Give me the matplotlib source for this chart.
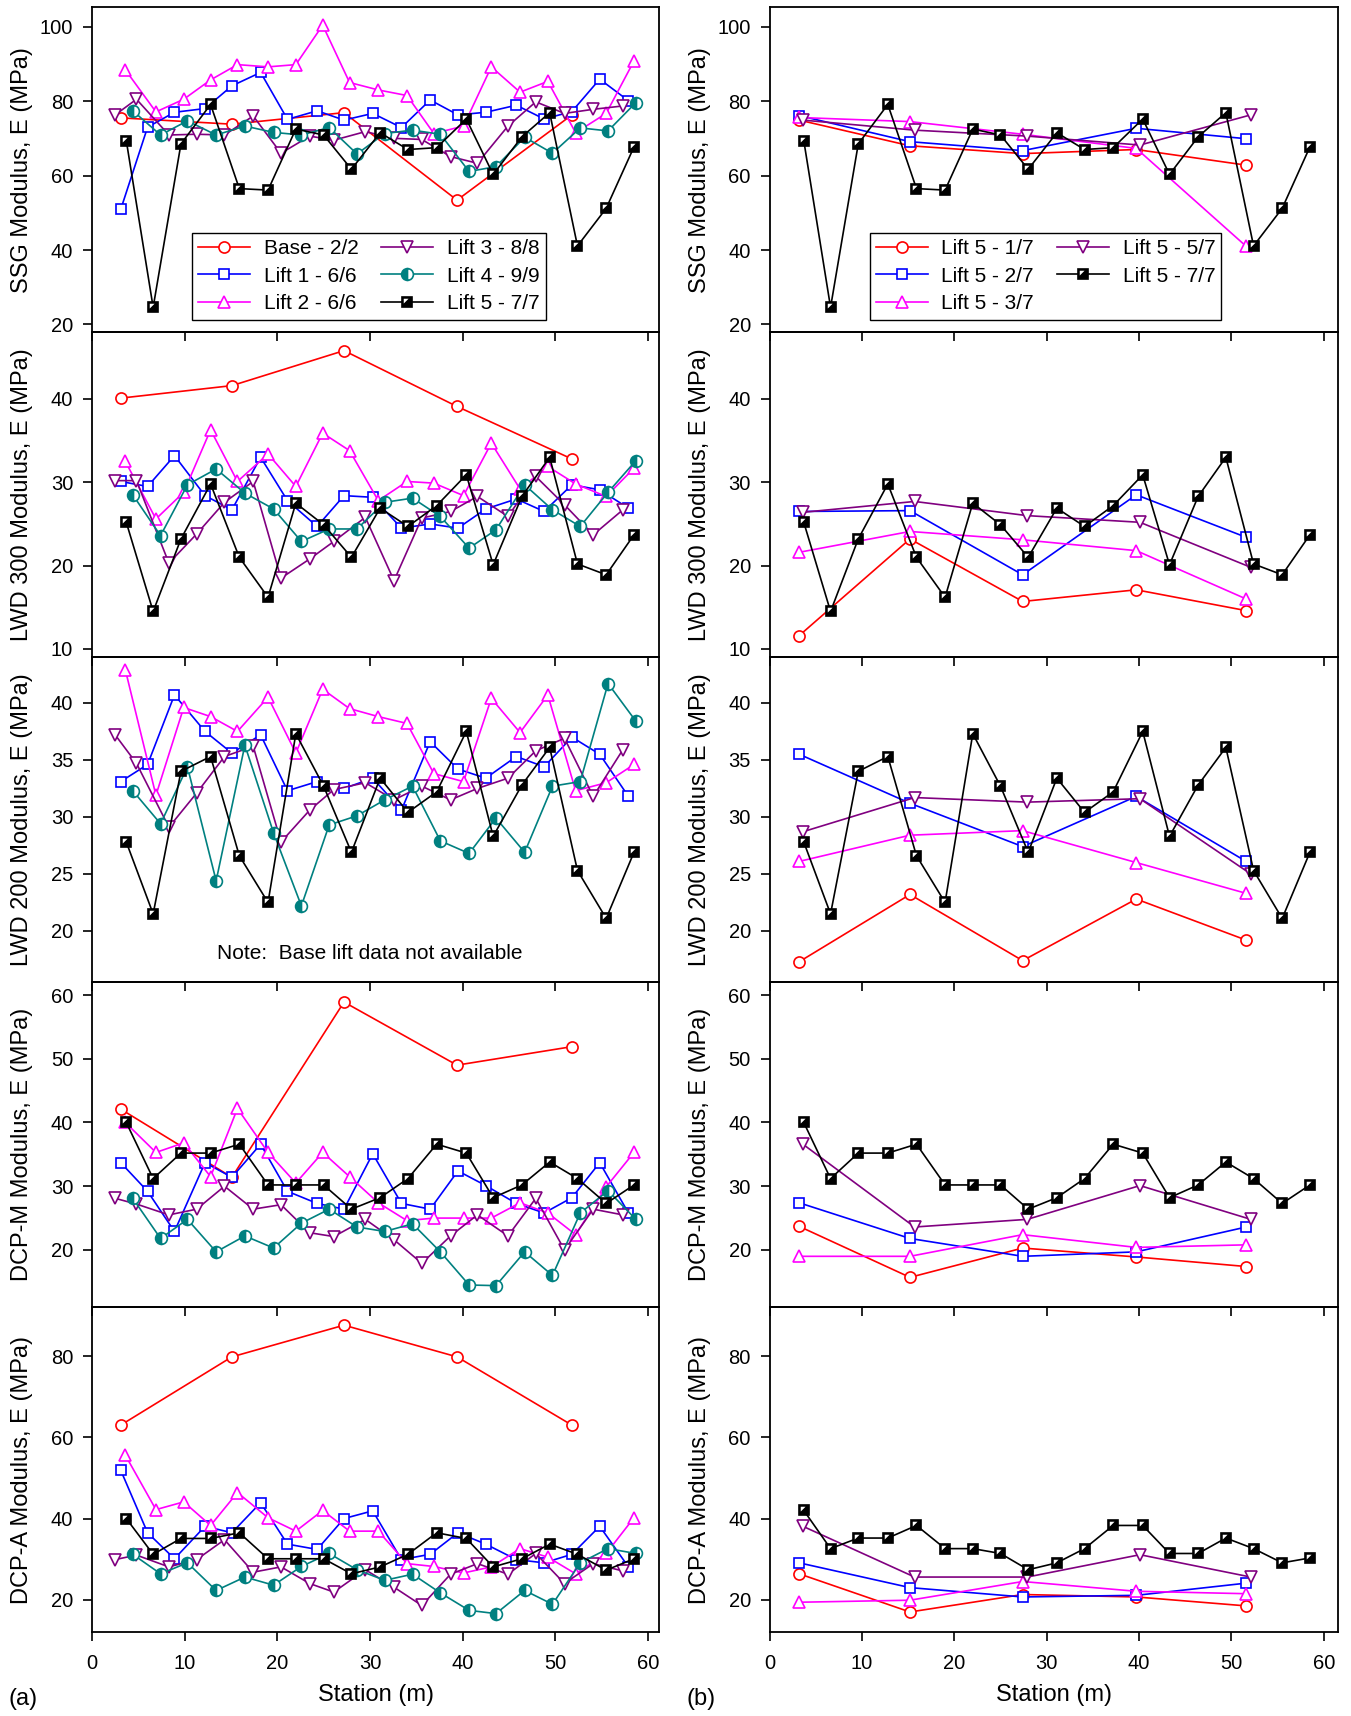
import matplotlib
matplotlib.use("Agg")
import matplotlib.pyplot as plt
from matplotlib.path import Path
from matplotlib.legend_handler import HandlerTuple

plt.rcParams['font.family'] = ['Liberation Sans', 'DejaVu Sans']

# ---- stations (m) ----
sta_base = [3.1, 15.1, 27.2, 39.4, 51.8]
sta_l1 = [3.1, 6.0, 8.9, 12.2, 15.1, 18.2, 21.1, 24.3, 27.2, 30.3, 33.4, 36.5, 39.5, 42.5, 45.8, 48.8, 51.8, 54.8, 57.9]
sta_l2 = [3.6, 6.9, 9.9, 12.8, 15.7, 19.0, 22.0, 24.9, 27.8, 30.9, 34.0, 36.9, 40.1, 43.1, 46.2, 49.2, 52.2, 55.5, 58.5]
sta_l3 = [2.5, 4.8, 8.3, 11.3, 14.3, 17.4, 20.4, 23.5, 26.1, 29.5, 32.6, 35.6, 38.7, 41.6, 44.9, 47.9, 51.0, 54.1, 57.3]
sta_l4 = [4.4, 7.4, 10.3, 13.4, 16.5, 19.6, 22.6, 25.6, 28.6, 31.6, 34.6, 37.6, 40.7, 43.6, 46.7, 49.7, 52.7, 55.7, 58.7]
sta_l5 = [3.7, 6.6, 9.6, 12.8, 15.9, 19.0, 22.0, 25.0, 28.0, 31.1, 34.1, 37.2, 40.4, 43.3, 46.4, 49.4, 52.4, 55.5, 58.5]
sta_b = [3.2, 15.2, 27.4, 39.7, 51.6]
sta_b5 = [3.6, 15.7, 27.9, 40.1, 52.1]

labels_a = ["Base - 2/2", "Lift 1 - 6/6", "Lift 2 - 6/6", "Lift 3 - 8/8", "Lift 4 - 9/9", "Lift 5 - 7/7"]
labels_b = ["Lift 5 - 1/7", "Lift 5 - 2/7", "Lift 5 - 3/7", "Lift 5 - 5/7", "Lift 5 - 7/7"]

# ---- SSG ----
ssg_base = [75.5, 73.8, 76.9, 53.4, 76.3]
ssg_l1 = [50.9, 73.0, 77.0, 78.0, 84.1, 87.7, 75.1, 77.4, 74.9, 76.7, 72.9, 80.3, 76.3, 77.0, 78.9, 75.2, 77.2, 85.9, 80.1]
ssg_l2 = [88.4, 77.1, 80.5, 85.7, 89.8, 89.2, 89.8, 100.4, 85.0, 83.0, 81.5, 71.3, 73.3, 89.2, 82.4, 85.3, 71.5, 76.7, 90.8]
ssg_l3 = [76.3, 80.5, 70.9, 71.1, 70.9, 76.0, 66.0, 70.6, 69.5, 71.8, 70.0, 69.7, 65.1, 63.3, 73.3, 79.8, 76.7, 77.8, 78.7]
ssg_l4 = [77.4, 70.9, 74.7, 70.9, 73.3, 71.6, 70.9, 72.9, 65.8, 71.3, 72.2, 71.1, 61.1, 62.4, 70.3, 66.0, 72.8, 72.0, 79.6]
ssg_l5 = [69.4, 24.6, 68.5, 79.1, 56.5, 56.1, 72.5, 70.9, 61.7, 71.5, 67.0, 67.5, 75.2, 60.3, 70.4, 76.9, 41.1, 51.2, 67.7]
ssg_b1 = [74.9, 68.0, 65.9, 67.0, 62.8]
ssg_b2 = [76.1, 69.1, 66.7, 72.7, 69.9]
ssg_b3 = [75.6, 74.5, 71.1, 67.3, 41.0]
ssg_b5 = [74.9, 72.2, 70.6, 68.2, 76.3]

# ---- LWD 300 ----
l300_base = [40.1, 41.6, 45.8, 39.1, 32.8]
l300_l1 = [30.1, 29.5, 33.2, 28.4, 26.7, 33.0, 27.8, 24.7, 28.4, 28.2, 24.5, 25.0, 24.5, 26.8, 28.0, 26.5, 29.7, 29.1, 26.9]
l300_l2 = [32.5, 25.6, 28.8, 36.3, 30.1, 33.4, 29.5, 35.9, 33.8, 27.8, 30.1, 29.9, 28.4, 34.7, 29.2, 31.9, 29.8, 28.3, 31.7]
l300_l3 = [30.2, 30.2, 20.3, 23.8, 27.6, 30.1, 18.5, 20.8, 22.9, 25.8, 18.2, 25.7, 26.5, 28.3, 25.9, 30.7, 27.3, 23.7, 26.7]
l300_l4 = [28.5, 23.6, 29.7, 31.6, 28.7, 26.8, 22.9, 24.4, 24.4, 27.6, 28.1, 25.9, 22.1, 24.3, 29.7, 26.7, 24.7, 28.8, 32.6]
l300_l5 = [25.2, 14.5, 23.2, 29.8, 21.0, 16.2, 27.5, 24.9, 21.0, 26.9, 24.7, 27.2, 30.9, 20.1, 28.3, 33.0, 20.2, 18.9, 23.7]
l300_b1 = [11.6, 23.2, 15.7, 17.1, 14.6]
l300_b2 = [26.5, 26.6, 18.9, 28.5, 23.4]
l300_b3 = [21.6, 24.1, 23.1, 21.8, 16.0]
l300_b5 = [26.4, 27.7, 26.0, 25.2, 19.8]

# ---- LWD 200 ----
l200_l1 = [33.1, 34.6, 40.7, 37.5, 35.6, 37.2, 32.3, 33.1, 32.5, 33.4, 30.6, 36.6, 34.2, 33.4, 35.3, 34.4, 37.0, 35.5, 31.8]
l200_l2 = [42.9, 31.9, 39.6, 38.8, 37.5, 40.5, 35.6, 41.2, 39.5, 38.8, 38.2, 33.8, 33.1, 40.4, 37.4, 40.7, 32.3, 33.0, 34.6]
l200_l3 = [37.2, 34.7, 29.1, 32.1, 35.3, 36.2, 27.8, 30.6, 32.4, 33.0, 31.5, 32.7, 31.5, 32.5, 33.4, 35.8, 36.9, 31.8, 35.9]
l200_l4 = [32.3, 29.4, 34.4, 24.4, 36.3, 28.6, 22.2, 29.3, 30.1, 31.5, 32.7, 27.9, 26.8, 29.9, 26.9, 32.7, 33.1, 41.7, 38.4]
l200_l5 = [27.8, 21.5, 34.0, 35.3, 26.6, 22.5, 37.3, 32.7, 26.9, 33.4, 30.4, 32.2, 37.5, 28.3, 32.8, 36.1, 25.3, 21.1, 26.9]
l200_b1 = [17.3, 23.2, 17.4, 22.8, 19.2]
l200_b2 = [35.5, 31.2, 27.4, 31.8, 26.1]
l200_b3 = [26.1, 28.4, 28.8, 26.0, 23.3]
l200_b5 = [28.7, 31.7, 31.3, 31.6, 25.0]

# ---- DCP-M ----
dcpm_base = [42.1, 31.4, 58.9, 49.0, 51.9]
dcpm_l1 = [33.7, 29.2, 22.9, 33.7, 31.4, 36.6, 29.2, 27.3, 26.4, 35.1, 27.3, 26.4, 32.4, 30.1, 27.3, 25.8, 28.2, 33.7, 25.8]
dcpm_l2 = [40.0, 35.3, 36.8, 31.5, 42.2, 35.3, 30.5, 35.3, 31.5, 27.4, 24.6, 25.0, 25.0, 25.0, 27.4, 25.8, 22.4, 29.9, 35.3]
dcpm_l3 = [28.1, 27.2, 25.5, 26.4, 30.0, 26.4, 27.1, 22.7, 22.1, 24.8, 21.6, 17.9, 22.2, 25.5, 22.2, 28.1, 20.0, 26.4, 25.5]
dcpm_l4 = [28.1, 21.8, 24.8, 19.7, 22.2, 20.3, 24.2, 26.4, 23.6, 22.9, 24.1, 19.7, 14.5, 14.4, 19.7, 16.0, 25.8, 29.3, 24.8]
dcpm_l5 = [40.0, 31.2, 35.2, 35.2, 36.6, 30.2, 30.2, 30.2, 26.4, 28.2, 31.2, 36.6, 35.2, 28.2, 30.2, 33.8, 31.2, 27.3, 30.2]
dcpm_b1 = [23.7, 15.7, 20.3, 18.9, 17.4]
dcpm_b2 = [27.4, 21.8, 19.0, 19.7, 23.6]
dcpm_b3 = [19.0, 19.0, 22.4, 20.4, 20.8]
dcpm_b5 = [36.6, 23.6, 24.8, 30.1, 24.8]

# ---- DCP-A ----
dcpa_base = [63.0, 79.8, 87.6, 79.8, 63.0]
dcpa_l1 = [51.9, 36.5, 30.1, 38.1, 36.5, 43.9, 33.7, 32.4, 40.0, 41.9, 29.9, 31.2, 36.5, 33.7, 29.9, 29.1, 31.2, 38.1, 28.1]
dcpa_l2 = [55.6, 42.2, 44.1, 38.3, 46.4, 40.2, 36.9, 42.0, 36.9, 36.9, 28.9, 28.2, 26.6, 28.1, 32.6, 30.5, 26.4, 31.4, 40.2]
dcpa_l3 = [29.9, 31.0, 28.1, 29.9, 34.8, 26.8, 28.1, 24.0, 21.9, 27.4, 23.1, 18.6, 26.3, 28.9, 26.3, 31.4, 24.0, 28.9, 27.1]
dcpa_l4 = [31.2, 26.4, 29.1, 22.3, 25.6, 23.6, 28.2, 31.4, 27.4, 24.8, 26.3, 21.7, 17.4, 16.6, 22.3, 18.9, 29.1, 32.6, 31.4]
dcpa_l5 = [40.0, 31.2, 35.1, 35.1, 36.5, 30.1, 30.1, 30.1, 26.4, 28.1, 31.2, 36.5, 35.1, 28.1, 30.1, 33.7, 31.2, 27.3, 30.1]
dcpa_b1 = [26.4, 17.0, 21.3, 20.7, 18.5]
dcpa_b2 = [29.1, 23.0, 20.7, 21.1, 24.1]
dcpa_b3 = [19.4, 19.9, 24.5, 22.1, 21.5]
dcpa_b5 = [38.1, 25.6, 25.6, 31.1, 25.6]
dcpa_b7 = [42.0, 32.6, 35.2, 35.2, 38.3, 32.6, 32.6, 31.4, 27.4, 29.1, 32.6, 38.3, 38.3, 31.4, 31.4, 35.2, 32.6, 29.1, 30.3]

ylabels = ["SSG Modulus, E (MPa)", "LWD 300 Modulus, E (MPa)", "LWD 200 Modulus, E (MPa)",
           "DCP-M Modulus, E (MPa)", "DCP-A Modulus, E (MPa)"]
ylims = [(17.9, 105.2), (9.0, 48.0), (15.5, 44.0), (11.0, 62.0), (12.0, 92.0)]
yticks = [[20, 40, 60, 80, 100], [10, 20, 30, 40], [20, 25, 30, 35, 40], [20, 30, 40, 50, 60], [20, 40, 60, 80]]

# marker styles per colour slot
styles = {
    'red': dict(color='#ff0000', marker='o', mfc='white', ms=8),
    'blue': dict(color='#0000ff', marker='s', mfc='white', ms=7),
    'magenta': dict(color='#ff00ff', marker='^', mfc='white', ms=9),
    'purple': dict(color='#800080', marker='v', mfc='white', ms=9),
    'teal': dict(color='#008080', marker='o', fillstyle='left', mfc='#008080', mfcalt='white', ms=8.5),
    'black': dict(color='black', marker='s', mfc='black', ms=7.5),
}
corner = Path([(-0.5, -0.5), (-0.36, 0.36), (0.1, 0.36), (-0.36, -0.1), (-0.36, 0.36)],
              [Path.MOVETO, Path.MOVETO, Path.LINETO, Path.LINETO, Path.CLOSEPOLY])


def draw(ax, x, y, key, label):
    st = styles[key]
    kw = dict(color=st['color'], marker=st['marker'], markersize=st['ms'],
              markerfacecolor=st['mfc'], markeredgecolor=st['color'], markeredgewidth=1.2,
              linewidth=1.2, label=label)
    if 'fillstyle' in st:
        kw['fillstyle'] = st['fillstyle']
        kw['markerfacecoloralt'] = st['mfcalt']
    line, = ax.plot(x, y, **kw)
    if key == 'black':
        tri, = ax.plot(x, y, linestyle='none', marker=corner, markersize=st['ms'],
                       markerfacecolor='white', markeredgewidth=0)
        return (line, tri)
    return line


fig = plt.figure(figsize=(13.51, 17.16), dpi=100)
W, H = 1351.0, 1716.0
col_left = [92 / W, 769.6 / W]
col_width = [567 / W, 568 / W]
xmax = [61.2, 61.5]
ph = 325 / H

data_a = [
    [ssg_base, ssg_l1, ssg_l2, ssg_l3, ssg_l4, ssg_l5],
    [l300_base, l300_l1, l300_l2, l300_l3, l300_l4, l300_l5],
    [None, l200_l1, l200_l2, l200_l3, l200_l4, l200_l5],
    [dcpm_base, dcpm_l1, dcpm_l2, dcpm_l3, dcpm_l4, dcpm_l5],
    [dcpa_base, dcpa_l1, dcpa_l2, dcpa_l3, dcpa_l4, dcpa_l5],
]
data_b = [
    [ssg_b1, ssg_b2, ssg_b3, ssg_b5, ssg_l5],
    [l300_b1, l300_b2, l300_b3, l300_b5, l300_l5],
    [l200_b1, l200_b2, l200_b3, l200_b5, l200_l5],
    [dcpm_b1, dcpm_b2, dcpm_b3, dcpm_b5, dcpm_l5],
    [dcpa_b1, dcpa_b2, dcpa_b3, dcpa_b5, dcpa_b7],
]
sta_a = [sta_base, sta_l1, sta_l2, sta_l3, sta_l4, sta_l5]
keys_a = ['red', 'blue', 'magenta', 'purple', 'teal', 'black']
sta_bl = [sta_b, sta_b, sta_b, sta_b5, sta_l5]
keys_b = ['red', 'blue', 'magenta', 'purple', 'black']

for c in range(2):
    for r in range(5):
        y0 = 1 - (7.3 + ph * H * (r + 1)) / H
        ax = fig.add_axes([col_left[c], y0, col_width[c], ph])
        ax.set_facecolor('none')
        handles = []
        if c == 0:
            for s, ys, k, lab in zip(sta_a, data_a[r], keys_a, labels_a):
                if ys is not None:
                    handles.append(draw(ax, s, ys, k, lab))
        else:
            for s, ys, k, lab in zip(sta_bl, data_b[r], keys_b, labels_b):
                handles.append(draw(ax, s, ys, k, lab))
        ax.set_xlim(0, xmax[c])
        ax.set_ylim(*ylims[r])
        ax.set_yticks(yticks[r])
        ax.set_xticks(range(0, 61, 10))
        ax.tick_params(direction='out', length=6.5, width=1.2, labelsize=14.5,
                       top=False, right=False)
        ax.tick_params(axis='y', pad=7)
        ax.tick_params(axis='x', pad=9)
        if r < 4:
            ax.tick_params(labelbottom=False)
        for sp in ax.spines.values():
            sp.set_linewidth(1.3)
        ax.set_ylabel(ylabels[r], fontsize=17)
        ax.yaxis.set_label_coords(-0.104, 0.5)
        if r == 0:
            labs = labels_a if c == 0 else labels_b
            leg = ax.legend(handles, labs, ncol=2, loc='lower left',
                            bbox_to_anchor=(0.176, 0.039), borderaxespad=0, fontsize=15,
                            handler_map={tuple: HandlerTuple(ndivide=1)},
                            frameon=True, fancybox=False, framealpha=1,
                            edgecolor='black', handlelength=2.5, handletextpad=0.65,
                            columnspacing=1.1, labelspacing=0.42, borderpad=0.3)
            leg.get_frame().set_linewidth(1.0)
        if c == 0 and r == 2:
            ax.text(0.489, 0.088, "Note:  Base lift data not available", transform=ax.transAxes,
                    ha='center', va='center', fontsize=15)

fig.text((92 + 567 / 2) / W, 1 - 1695 / H, "Station (m)", ha='center', va='center', fontsize=17)
fig.text((769.6 + 568 / 2) / W, 1 - 1695 / H, "Station (m)", ha='center', va='center', fontsize=17)
fig.text(9 / W, 1 - 1699 / H, "(a)", ha='left', va='center', fontsize=17)
fig.text(686 / W, 1 - 1699 / H, "(b)", ha='left', va='center', fontsize=17)

fig.savefig("out.png", dpi=100)
